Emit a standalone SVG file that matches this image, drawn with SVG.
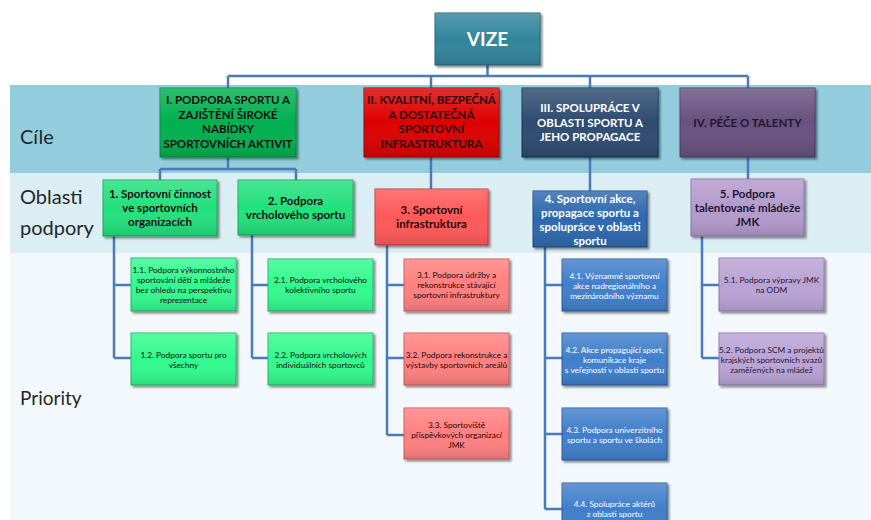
<svg xmlns="http://www.w3.org/2000/svg" width="871" height="520" viewBox="0 0 871 520">
<defs>
<filter id="sh" x="-10%" y="-10%" width="125%" height="130%">
<feGaussianBlur in="SourceAlpha" stdDeviation="1.2"/>
<feOffset dx="1.5" dy="2" result="b"/>
<feComponentTransfer><feFuncA type="linear" slope="0.45"/></feComponentTransfer>
<feMerge><feMergeNode/><feMergeNode in="SourceGraphic"/></feMerge>
</filter>
<linearGradient id="gl" x1="0" y1="0" x2="0" y2="1">
<stop offset="0" stop-color="#fff" stop-opacity="0.18"/>
<stop offset="0.5" stop-color="#fff" stop-opacity="0"/>
<stop offset="1" stop-color="#000" stop-opacity="0.12"/>
</linearGradient>
<style>
text{font-family:Lato,"Noto Sans","Liberation Sans",sans-serif;text-anchor:middle}
.lab{text-anchor:start;font-size:20px;fill:#262626}
.g{font-size:11.5px;font-weight:bold}
.o{font-size:11.5px;font-weight:bold}
.p{font-size:8.3px}
.conn{stroke:#4A7BB7;stroke-width:2.5;fill:none}
.box{filter:url(#sh);stroke-width:1}
.ov{fill:url(#gl)}
.gI{fill:#00B050;stroke:#008a3e}
.gII{fill:#DD0000;stroke:#a00000}
.gIII{fill:#2D4B70;stroke:#1d3350}
.gIV{fill:#68517F;stroke:#4a385e}
.oG{fill:#22E07C;stroke:#15a85a}
.oR{fill:#FF5858;stroke:#c83a3a}
.oB{fill:#2E67AE;stroke:#1e4a80}
.oP{fill:#B39ACC;stroke:#8a73a4}
.pG{fill:#33FA8E;stroke:#20b866}
.pR{fill:#FF8080;stroke:#d05a5a}
.pB{fill:#3F7FCB;stroke:#2a5d99}
.pP{fill:#B9A3D6;stroke:#8d78a8}
.tk{fill:#111}
.tr{fill:#2a0505}
.tw{fill:#fff}
.tp{fill:#231830}
</style>
</defs>

<g id="bands">
<rect x="10" y="85" width="861" height="88" fill="#93CDDD"/>
<rect x="10" y="173" width="861" height="80" fill="#DBEEF4"/>
<rect x="10" y="253" width="861" height="267" fill="#F3F8FC"/>
<text class="lab" x="20" y="144">Cíle</text>
<text class="lab" x="20" y="204">Oblasti</text>
<text class="lab" x="20" y="235">podpory</text>
<text class="lab" x="20" y="405" style="font-size:19px">Priority</text>
</g>

<g id="connectors">
<path class="conn" d="M487.5 65V76M228 76H748M228 76V88M431 76V88M590 76V88M748 76V88"/>
<path class="conn" d="M228 157V169M160 169H296M160 169V180M296 169V180"/>
<path class="conn" d="M431 157V189M590 157V191M748 157V179"/>
<path class="conn" d="M114 236V358M114 285H131M114 358H131"/>
<path class="conn" d="M252 235V358M252 285H268M252 358H268"/>
<path class="conn" d="M387 245V435M387 285H404M387 358H404M387 435H404"/>
<path class="conn" d="M545 247V509M545 285H562M545 358H562M545 434H562M545 509H562"/>
<path class="conn" d="M702 236V358M702 285H719M702 358H719"/>
</g>

<g id="vize">
<rect class="box" x="435" y="13" width="105" height="52" fill="#31859C" stroke="#246475"/>
<rect class="ov" x="435" y="13" width="105" height="52"/>
<text x="487.5" y="45.5" class="tw" style="font-size:19px;font-weight:bold">VIZE</text>
</g>

<g id="goal-1">
<rect class="box gI" x="160" y="88" width="136" height="69"/><rect class="ov" x="160" y="88" width="136" height="69"/>
<text class="g tk"><tspan x="228" y="104">I. PODPORA SPORTU A</tspan><tspan x="228" y="119">ZAJIŠTĚNÍ ŠIROKÉ</tspan><tspan x="228" y="133">NABÍDKY</tspan><tspan x="228" y="148">SPORTOVNÍCH AKTIVIT</tspan></text>
</g>
<g id="goal-2">
<rect class="box gII" x="364" y="88" width="135" height="69"/><rect class="ov" x="364" y="88" width="135" height="69"/>
<text class="g tr"><tspan x="431.5" y="104">II. KVALITNÍ, BEZPEČNÁ</tspan><tspan x="431.5" y="119">A DOSTATEČNÁ</tspan><tspan x="431.5" y="133">SPORTOVNÍ</tspan><tspan x="431.5" y="148">INFRASTRUKTURA</tspan></text>
</g>
<g id="goal-3">
<rect class="box gIII" x="522" y="88" width="136" height="69"/><rect class="ov" x="522" y="88" width="136" height="69"/>
<text class="g tw"><tspan x="590" y="112">III. SPOLUPRÁCE V</tspan><tspan x="590" y="127">OBLASTI SPORTU A</tspan><tspan x="590" y="141">JEHO PROPAGACE</tspan></text>
</g>
<g id="goal-4">
<rect class="box gIV" x="680" y="88" width="135" height="69"/><rect class="ov" x="680" y="88" width="135" height="69"/>
<text class="g tp"><tspan x="747.5" y="127">IV. PÉČE O TALENTY</tspan></text>
</g>

<g id="area-1">
<rect class="box oG" x="103" y="180" width="114" height="56"/><rect class="ov" x="103" y="180" width="114" height="56"/>
<text class="o tk"><tspan x="160" y="198">1. Sportovní činnost</tspan><tspan x="160" y="212">ve sportovních</tspan><tspan x="160" y="226">organizacích</tspan></text>
</g>
<g id="area-2">
<rect class="box oG" x="238" y="180" width="115" height="55"/><rect class="ov" x="238" y="180" width="115" height="55"/>
<text class="o tk"><tspan x="295.5" y="204.5">2. Podpora</tspan><tspan x="295.5" y="218.5">vrcholového sportu</tspan></text>
</g>
<g id="area-3">
<rect class="box oR" x="375" y="189" width="113" height="56"/><rect class="ov" x="375" y="189" width="113" height="56"/>
<text class="o tr"><tspan x="431.5" y="213.5">3. Sportovní</tspan><tspan x="431.5" y="227.5">infrastruktura</tspan></text>
</g>
<g id="area-4">
<rect class="box oB" x="533" y="191" width="114" height="56"/><rect class="ov" x="533" y="191" width="114" height="56"/>
<text class="o tw"><tspan x="590" y="202.5">4. Sportovní akce,</tspan><tspan x="590" y="216.5">propagace sportu a</tspan><tspan x="590" y="230.5">spolupráce v oblasti</tspan><tspan x="590" y="244.5">sportu</tspan></text>
</g>
<g id="area-5">
<rect class="box oP" x="691" y="179" width="113" height="57"/><rect class="ov" x="691" y="179" width="113" height="57"/>
<text class="o tp"><tspan x="747.5" y="198">5. Podpora</tspan><tspan x="747.5" y="212">talentované mládeže</tspan><tspan x="747.5" y="226">JMK</tspan></text>
</g>

<g id="p-1-1">
<rect class="box pG" x="131" y="258" width="105" height="53"/><rect class="ov" x="131" y="258" width="105" height="53"/>
<text class="p tk"><tspan x="183.5" y="273">1.1. Podpora výkonnostního</tspan><tspan x="183.5" y="283">sportování dětí a mládeže</tspan><tspan x="183.5" y="293">bez ohledu na perspektivu</tspan><tspan x="183.5" y="302.5">reprezentace</tspan></text>
</g>
<g id="p-1-2">
<rect class="box pG" x="131" y="333" width="105" height="52"/><rect class="ov" x="131" y="333" width="105" height="52"/>
<text class="p tk"><tspan x="183.5" y="358">1.2. Podpora sportu pro</tspan><tspan x="183.5" y="368">všechny</tspan></text>
</g>
<g id="p-2-1">
<rect class="box pG" x="268" y="259" width="105" height="52"/><rect class="ov" x="268" y="259" width="105" height="52"/>
<text class="p tk"><tspan x="320.5" y="283">2.1. Podpora vrcholového</tspan><tspan x="320.5" y="293">kolektivního sportu</tspan></text>
</g>
<g id="p-2-2">
<rect class="box pG" x="268" y="333" width="105" height="52"/><rect class="ov" x="268" y="333" width="105" height="52"/>
<text class="p tk"><tspan x="320.5" y="358">2.2. Podpora vrcholových</tspan><tspan x="320.5" y="368">individuálních sportovců</tspan></text>
</g>
<g id="p-3-1">
<rect class="box pR" x="404" y="259" width="105" height="52"/><rect class="ov" x="404" y="259" width="105" height="52"/>
<text class="p tr"><tspan x="456.5" y="278">3.1. Podpora údržby a</tspan><tspan x="456.5" y="288">rekonstrukce stávající</tspan><tspan x="456.5" y="298">sportovní infrastruktury</tspan></text>
</g>
<g id="p-3-2">
<rect class="box pR" x="404" y="333" width="105" height="52"/><rect class="ov" x="404" y="333" width="105" height="52"/>
<text class="p tr"><tspan x="456.5" y="358">3.2. Podpora rekonstrukce a</tspan><tspan x="456.5" y="368">výstavby sportovních areálů</tspan></text>
</g>
<g id="p-3-3">
<rect class="box pR" x="404" y="408" width="105" height="51"/><rect class="ov" x="404" y="408" width="105" height="51"/>
<text class="p tr"><tspan x="456.5" y="428">3.3. Sportoviště</tspan><tspan x="456.5" y="438">příspěvkových organizací</tspan><tspan x="456.5" y="448">JMK</tspan></text>
</g>
<g id="p-4-1">
<rect class="box pB" x="562" y="259" width="105" height="52"/><rect class="ov" x="562" y="259" width="105" height="52"/>
<text class="p tw"><tspan x="614.5" y="279">4.1. Významné sportovní</tspan><tspan x="614.5" y="289">akce nadregionálního a</tspan><tspan x="614.5" y="299">mezinárodního významu</tspan></text>
</g>
<g id="p-4-2">
<rect class="box pB" x="562" y="333" width="105" height="52"/><rect class="ov" x="562" y="333" width="105" height="52"/>
<text class="p tw"><tspan x="614.5" y="353">4.2. Akce propagující sport,</tspan><tspan x="614.5" y="363">komunikace kraje</tspan><tspan x="614.5" y="373">s veřejností v oblasti sportu</tspan></text>
</g>
<g id="p-4-3">
<rect class="box pB" x="562" y="408" width="105" height="52"/><rect class="ov" x="562" y="408" width="105" height="52"/>
<text class="p tw"><tspan x="614.5" y="433">4.3. Podpora univerzitního</tspan><tspan x="614.5" y="443">sportu a sportu ve školách</tspan></text>
</g>
<g id="p-4-4">
<rect class="box pB" x="562" y="483" width="105" height="52"/><rect class="ov" x="562" y="483" width="105" height="52"/>
<text class="p tw"><tspan x="614.5" y="507">4.4. Spolupráce aktérů</tspan><tspan x="614.5" y="517">z oblasti sportu</tspan></text>
</g>
<g id="p-5-1">
<rect class="box pP" x="719" y="258" width="105" height="53"/><rect class="ov" x="719" y="258" width="105" height="53"/>
<text class="p tp"><tspan x="771.5" y="283">5.1. Podpora výpravy JMK</tspan><tspan x="771.5" y="293">na ODM</tspan></text>
</g>
<g id="p-5-2">
<rect class="box pP" x="719" y="333" width="105" height="52"/><rect class="ov" x="719" y="333" width="105" height="52"/>
<text class="p tp"><tspan x="771.5" y="353">5.2. Podpora SCM a projektů</tspan><tspan x="771.5" y="363">krajských sportovních svazů</tspan><tspan x="771.5" y="373">zaměřených na mládež</tspan></text>
</g>
</svg>
